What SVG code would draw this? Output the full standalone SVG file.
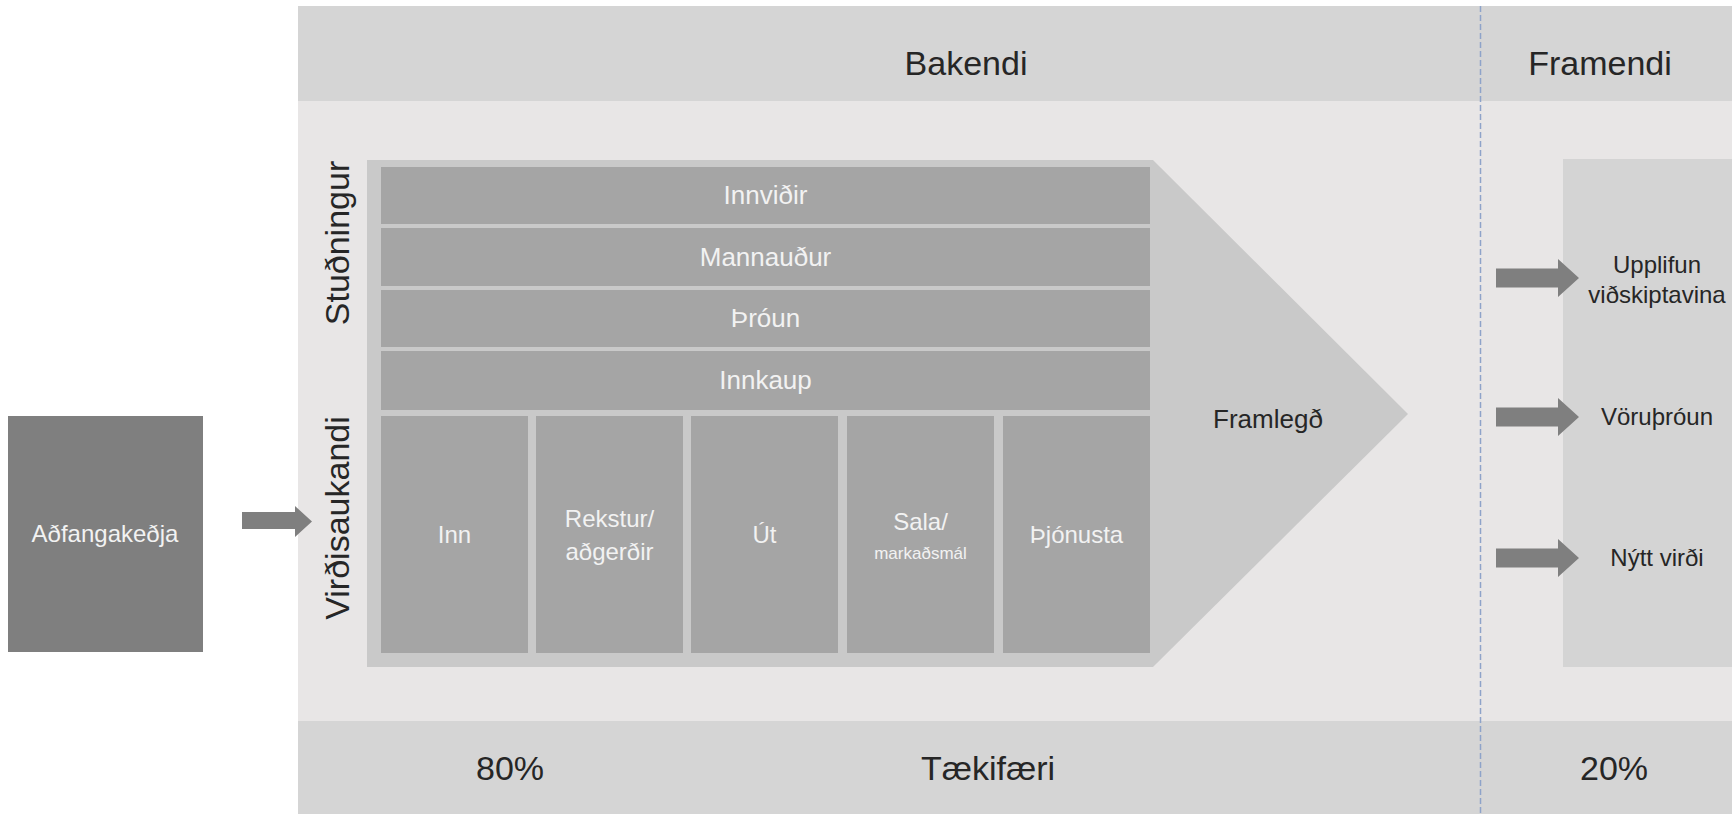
<svg xmlns="http://www.w3.org/2000/svg" width="1732" height="814" viewBox="0 0 1732 814">
<style>
text{font-family:"Liberation Sans",Arial,sans-serif;}
.dark{fill:#262626;}
.light{fill:#f2f2f2;}
.hdr{font-size:34px;text-anchor:middle;}
.row{fill:#a5a5a5;}
.rowt{font-size:26px;text-anchor:middle;}
.colt{font-size:24px;text-anchor:middle;}
.side{font-size:34px;text-anchor:middle;}
.rt{font-size:24px;text-anchor:middle;}
.arr{fill:#7f7f7f;}
</style>
<rect width="1732" height="814" fill="#ffffff"/>
<g id="panel">
<rect x="298" y="6" width="1434" height="808" fill="#e8e6e6"/>
<rect x="298" y="6" width="1434" height="95" fill="#d5d5d5"/>
<rect x="298" y="721" width="1434" height="93" fill="#d5d5d5"/>
<line x1="1480.5" y1="6" x2="1480.5" y2="814" stroke="#8ea3c9" stroke-width="1.5" stroke-dasharray="6,3"/>
</g>
<g id="bakendi"><text class="hdr dark" x="966" y="75">Bakendi</text></g>
<g id="framendi"><text class="hdr dark" x="1600" y="75">Framendi</text></g>
<g id="p80"><text class="hdr dark" x="510" y="780">80%</text></g>
<g id="taekifaeri"><text class="hdr dark" x="988" y="780">Tækifæri</text></g>
<g id="p20"><text class="hdr dark" x="1614" y="780">20%</text></g>
<g id="studningur"><text class="side dark" transform="translate(349,243) rotate(-90)">Stuðningur</text></g>
<g id="virdisaukandi"><text class="side dark" transform="translate(349,518) rotate(-90)">Virðisaukandi</text></g>
<g id="framlegd">
<polygon points="367,160 1153,160 1408,414 1153,667 367,667" fill="#c9c9c9"/>
<text class="dark" x="1268" y="428" font-size="26" text-anchor="middle">Framlegð</text>
</g>
<g id="innvidir"><rect class="row" x="381" y="167" width="769" height="57"/><text class="rowt light" x="765.5" y="204">Innviðir</text></g>
<g id="mannaudur"><rect class="row" x="381" y="228" width="769" height="58"/><text class="rowt light" x="765.5" y="266">Mannauður</text></g>
<g id="throun"><rect class="row" x="381" y="290" width="769" height="57"/><text class="rowt light" x="765.5" y="327">Þróun</text></g>
<g id="innkaup"><rect class="row" x="381" y="351" width="769" height="59"/><text class="rowt light" x="765.5" y="389">Innkaup</text></g>
<g id="inn"><rect class="row" x="381" y="416" width="147" height="237"/><text class="colt light" x="454.5" y="543">Inn</text></g>
<g id="rekstur"><rect class="row" x="536" y="416" width="147" height="237"/><text class="colt light" x="609.5" y="527">Rekstur/</text><text class="colt light" x="609.5" y="560">aðgerðir</text></g>
<g id="ut"><rect class="row" x="691" y="416" width="147" height="237"/><text class="colt light" x="764.5" y="543">Út</text></g>
<g id="sala"><rect class="row" x="847" y="416" width="147" height="237"/><text class="colt light" x="920.5" y="530">Sala/</text><text class="light" x="920.5" y="559" font-size="17" text-anchor="middle">markaðsmál</text></g>
<g id="thjonusta"><rect class="row" x="1003" y="416" width="147" height="237"/><text class="colt light" x="1076.5" y="543">Þjónusta</text></g>
<g id="adfangakedja"><rect x="8" y="416" width="195" height="236" fill="#7f7f7f"/><text class="light" x="105" y="542" font-size="24" text-anchor="middle">Aðfangakeðja</text></g>
<g id="frambox">
<rect x="1563" y="159" width="169" height="508" fill="#d4d4d4"/>
</g>
<g id="upplifun"><text class="rt dark" x="1657" y="273">Upplifun</text><text class="rt dark" x="1657" y="303">viðskiptavina</text></g>
<g id="voruthroun"><text class="rt dark" x="1657" y="425">Vöruþróun</text></g>
<g id="nyttvirdi"><text class="rt dark" x="1657" y="566">Nýtt virði</text></g>
<g id="connectors">
<polygon class="arr" points="242,512 295,512 295,506 312,521.5 295,537 295,529 242,529"/>
<polygon class="arr" points="1496,268.5 1558,268.5 1558,259 1579,278 1558,297 1558,287.5 1496,287.5"/>
<polygon class="arr" points="1496,407.5 1558,407.5 1558,398 1579,417 1558,436 1558,426.5 1496,426.5"/>
<polygon class="arr" points="1496,548.5 1558,548.5 1558,539 1579,558 1558,577 1558,567.5 1496,567.5"/>
</g>
</svg>
